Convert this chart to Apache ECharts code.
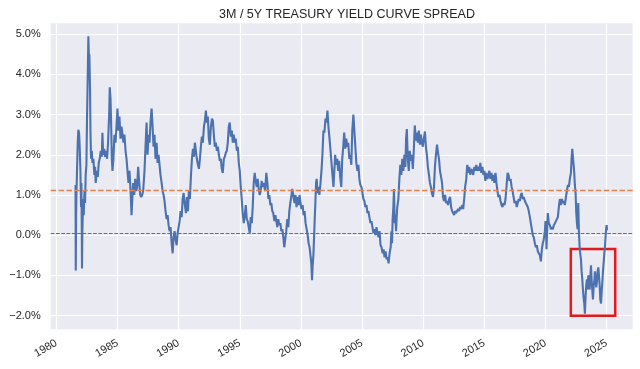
<!DOCTYPE html>
<html><head><meta charset="utf-8">
<script src="https://cdn.jsdelivr.net/npm/echarts@6/dist/echarts.min.js"></script>
<style>html,body{margin:0;padding:0;background:#fff}#c{width:640px;height:369px}</style>
</head><body><div id="c"></div>
<script>
// Decimal years (x) and 3M/5Y spread in % (y)
const years = [
 1981.57,1981.59,1981.62,1981.64,1981.69,1981.75,1981.80,1981.86,1981.91,1981.97,1982.02,1982.05,1982.08,1982.10,1982.13,1982.19,1982.24,1982.30,1982.35,1982.40,1982.46,1982.51,1982.56,1982.62,1982.68,1982.70,1982.76,1982.79,1982.84,1982.90,1982.95,
 1983.03,1983.11,1983.17,1983.22,1983.31,1983.39,1983.47,1983.55,1983.63,1983.72,1983.77,1983.83,1983.91,1983.99,1984.07,1984.15,1984.23,1984.32,1984.37,1984.43,1984.48,1984.54,1984.59,1984.67,1984.75,1984.84,1984.92,1985.00,
 1985.08,1985.16,1985.25,1985.33,1985.41,1985.49,1985.57,1985.66,1985.74,1985.82,1985.90,1985.98,1986.07,1986.15,1986.20,1986.28,1986.37,1986.45,1986.53,1986.61,1986.69,1986.78,1986.86,1986.94,1987.02,1987.10,1987.21,1987.32,1987.38,1987.46,1987.54,1987.62,1987.70,1987.79,1987.87,1987.95,
 1988.03,1988.11,1988.20,1988.28,1988.36,1988.44,1988.52,1988.61,1988.69,1988.77,1988.85,1988.93,1989.02,1989.10,1989.18,1989.26,1989.34,1989.43,1989.51,1989.59,1989.67,1989.75,1989.84,1989.92,1990.00,1990.08,1990.16,1990.25,1990.33,1990.41,1990.49,
 1990.60,1990.68,1990.76,1990.84,1990.92,1991.01,1991.09,1991.17,1991.25,1991.33,1991.41,1991.49,1991.58,1991.66,1991.74,1991.82,1991.90,1991.98,1992.07,1992.15,1992.23,1992.31,1992.39,1992.47,1992.55,1992.64,1992.72,1992.80,1992.88,1992.96,
 1993.04,1993.13,1993.21,1993.29,1993.37,1993.45,1993.53,1993.61,1993.70,1993.78,1993.86,1993.94,1994.02,1994.10,1994.18,1994.27,1994.35,1994.43,1994.51,1994.59,1994.67,1994.76,1994.84,1994.92,1995.00,
 1995.08,1995.16,1995.24,1995.33,1995.41,1995.49,1995.57,1995.65,1995.73,1995.82,1995.90,1995.98,1996.06,1996.14,1996.22,1996.30,1996.39,1996.47,1996.55,1996.63,1996.71,1996.79,1996.88,1996.96,
 1997.07,1997.17,1997.26,1997.34,1997.42,1997.50,1997.58,1997.66,1997.74,1997.83,1997.91,1997.99,1998.07,1998.15,1998.23,1998.32,1998.40,1998.48,1998.56,1998.64,1998.72,1998.80,1998.89,1998.97,1999.05,1999.13,1999.21,1999.29,
 1999.40,1999.48,1999.56,1999.64,1999.73,1999.81,1999.89,1999.97,2000.05,2000.14,2000.22,2000.30,2000.38,2000.47,2000.55,2000.63,2000.71,2000.80,2000.85,2000.91,2000.96,2001.02,2001.07,2001.13,2001.18,2001.24,2001.29,2001.35,2001.43,2001.51,2001.59,2001.68,2001.76,2001.84,2001.92,2002.01,2002.09,2002.17,2002.25,2002.34,2002.42,2002.50,2002.58,2002.66,2002.75,2002.80,2002.88,2002.97,
 2003.05,2003.13,2003.21,2003.30,2003.38,2003.46,2003.54,2003.63,2003.71,2003.79,2003.87,2003.96,2004.04,2004.12,2004.20,2004.29,2004.37,2004.45,2004.53,2004.62,2004.70,2004.78,2004.86,2004.95,
 2005.03,2005.11,2005.19,2005.27,2005.36,2005.44,2005.52,2005.60,2005.69,2005.77,2005.85,2005.93,2006.02,2006.10,2006.18,2006.26,2006.35,2006.43,2006.51,2006.59,2006.68,2006.76,2006.84,2006.92,2007.01,2007.09,2007.17,2007.25,2007.34,2007.40,2007.45,2007.50,2007.56,2007.61,2007.67,2007.72,2007.78,2007.83,2007.88,2007.97,2008.05,2008.13,2008.21,2008.29,2008.38,2008.46,
 2008.54,2008.60,2008.66,2008.74,2008.82,2008.90,2008.98,2009.07,2009.15,2009.23,2009.31,2009.40,2009.48,2009.56,2009.64,2009.73,2009.81,2009.89,2009.97,2010.05,2010.14,2010.22,2010.30,2010.38,2010.47,2010.55,2010.63,2010.71,2010.80,2010.88,2010.96,
 2011.04,2011.13,2011.21,2011.29,2011.37,2011.46,2011.54,2011.62,2011.70,2011.79,2011.87,2011.95,2012.03,2012.12,2012.20,2012.28,2012.36,2012.45,2012.53,2012.61,2012.69,2012.77,2012.86,2012.94,2013.02,2013.10,2013.19,2013.27,2013.35,2013.43,2013.52,2013.60,2013.68,2013.76,2013.85,2013.93,
 2014.01,2014.09,2014.18,2014.26,2014.34,2014.42,2014.51,2014.59,2014.67,2014.75,2014.84,2014.92,2015.00,2015.08,2015.16,2015.25,2015.33,2015.41,2015.49,2015.58,2015.66,2015.74,2015.82,2015.91,2015.99,2016.07,2016.15,2016.24,2016.32,2016.40,2016.48,2016.57,2016.65,2016.73,2016.81,2016.90,2016.98,2017.06,2017.14,2017.23,2017.31,
 2017.39,2017.47,2017.57,2017.65,2017.73,2017.81,2017.90,2017.98,2018.06,2018.14,2018.22,2018.31,2018.39,2018.47,2018.55,2018.63,2018.72,2018.80,2018.88,2018.96,2019.04,2019.13,2019.21,2019.29,2019.37,2019.45,2019.54,2019.62,2019.70,2019.78,2019.86,2019.95,
 2020.00,2020.05,2020.08,2020.14,2020.19,2020.27,2020.36,2020.44,2020.52,2020.60,2020.68,2020.77,2020.85,2020.93,2021.01,2021.09,2021.17,2021.26,2021.34,2021.42,2021.50,2021.58,2021.67,2021.75,2021.83,2021.91,2021.99,2022.08,2022.13,2022.19,2022.24,2022.30,2022.35,2022.40,2022.46,2022.51,2022.57,2022.62,2022.68,2022.73,2022.79,2022.84,2022.90,2022.95,
 2023.01,2023.06,2023.11,2023.17,2023.22,2023.28,2023.33,2023.39,2023.44,2023.50,2023.55,2023.61,2023.66,2023.72,2023.77,2023.83,2023.88,2023.94,2023.99,2024.04,2024.10,2024.15,2024.21,2024.26,2024.32,2024.37,2024.43,2024.48,2024.54,2024.59,2024.64,2024.70,2024.75,2024.81,2024.86,2024.92,2024.97,2025.00,2025.03
];
const spread = [
 1.25,-0.88,0.5,0.9,1.6,2.3,2.62,2.55,2.2,1.6,0.7,1.3,0.2,-0.83,0.1,0.9,0.5,1.1,0.8,1.5,1.75,2.9,3.8,4.95,4.2,4.5,3.6,2.6,1.9,2.1,1.8,
 1.9,1.5,1.7,1.3,1.6,1.45,1.8,1.9,2.1,1.95,2.55,2.0,2.15,1.95,2.1,1.9,2.3,3.0,3.68,3.4,2.8,1.9,1.6,1.9,2.5,2.3,2.7,3.15,
 2.6,2.95,2.4,2.7,2.5,2.3,2.5,2.1,1.9,1.6,1.3,1.6,1.1,0.5,0.8,1.3,1.0,1.4,1.1,1.2,1.7,1.3,1.0,0.95,1.0,1.1,1.6,2.4,2.8,2.0,2.5,2.3,2.8,3.15,2.7,2.2,
 2.5,1.9,2.3,1.8,2.0,1.75,1.5,1.3,1.1,1.0,0.85,0.6,0.4,0.5,0.25,0.1,0.2,-0.2,-0.45,-0.05,0.1,-0.1,-0.25,0.05,0.2,0.35,0.6,0.45,0.9,1.05,0.8,
 0.55,0.95,0.6,1.1,0.9,1.5,1.9,2.15,1.95,2.3,2.1,1.9,1.75,1.65,1.9,2.2,2.45,2.3,2.7,2.85,3.1,2.8,2.95,2.4,2.25,2.7,2.9,2.85,2.5,2.2,
 2.3,2.1,2.2,2.0,1.85,1.9,1.65,1.55,1.9,1.95,2.05,2.1,2.3,2.7,2.8,2.45,2.6,2.3,2.5,2.3,2.4,2.1,2.2,1.8,1.6,
 1.2,0.9,0.55,0.3,0.5,0.75,0.4,0.35,0.2,0.05,0.45,0.3,0.7,1.3,1.55,1.35,1.2,1.4,1.15,1.0,1.1,1.35,1.2,1.3,
 1.1,1.55,1.3,0.9,1.0,0.75,0.8,0.6,0.55,0.35,0.5,0.35,0.2,0.4,0.25,0.3,0.1,0.15,-0.05,-0.3,-0.1,0.1,0.4,0.2,0.6,0.8,0.95,1.15,
 1.15,0.8,1.0,0.7,0.95,0.75,1.0,0.8,0.65,0.75,0.5,0.6,0.3,0.15,0.0,-0.2,-0.3,-0.55,-0.7,-1.12,-0.75,-0.5,-0.1,0.4,0.8,1.3,1.4,1.05,1.2,1.0,1.25,1.6,2.0,2.6,2.55,2.9,2.8,3.1,2.7,2.4,2.1,1.8,1.5,1.2,1.7,2.0,1.75,1.9,
 1.6,1.85,1.45,1.2,1.9,2.2,2.55,2.15,2.4,2.2,2.3,1.9,2.0,1.75,2.6,3.0,2.6,2.2,1.8,1.6,1.75,1.4,1.25,1.2,
 1.05,0.9,0.85,0.7,0.75,0.55,0.6,0.45,0.3,0.35,0.2,0.05,0.15,0.0,0.2,0.05,-0.05,0.1,-0.25,-0.3,-0.45,-0.35,-0.55,-0.4,-0.6,-0.55,-0.7,-0.45,-0.3,0.1,-0.2,0.4,0.7,1.15,0.3,0.5,0.1,0.45,0.7,0.9,1.4,1.75,1.5,1.9,1.6,2.0,
 1.7,2.4,2.64,1.9,1.6,2.1,1.85,2.0,1.65,2.1,2.73,2.35,2.55,2.3,2.6,2.25,2.5,2.3,2.2,2.4,2.58,2.2,2.0,1.7,1.5,1.3,1.2,1.05,0.95,1.2,1.7,
 2.0,2.25,2.05,1.9,1.6,1.45,1.3,0.95,0.85,1.0,0.8,0.85,0.75,0.9,0.95,0.7,0.6,0.55,0.5,0.6,0.55,0.6,0.65,0.6,0.7,0.65,0.75,0.65,0.9,1.2,1.4,1.75,1.55,1.7,1.5,1.65,
 1.6,1.5,1.7,1.6,1.75,1.6,1.7,1.6,1.8,1.55,1.7,1.5,1.6,1.35,1.55,1.4,1.5,1.6,1.4,1.55,1.35,1.5,1.3,1.55,1.3,1.1,0.95,1.0,0.85,0.75,0.7,0.8,0.75,0.9,1.2,1.55,1.5,1.35,1.4,1.2,1.1,
 0.95,0.8,0.85,0.7,0.8,0.9,0.85,1.0,1.05,0.9,0.95,0.85,0.8,0.75,0.7,0.6,0.45,0.3,0.15,0.0,-0.05,-0.2,-0.3,-0.25,-0.4,-0.45,-0.5,-0.65,-0.35,-0.2,-0.1,0.1,
 0.35,0.05,-0.35,0.2,0.55,0.3,0.25,0.15,0.2,0.15,0.25,0.3,0.35,0.4,0.45,0.7,0.9,0.75,0.9,0.8,0.85,0.75,0.95,1.1,1.25,1.2,1.4,1.55,1.9,2.15,1.95,1.75,1.55,1.25,1.05,0.6,0.3,0.15,0.8,0.1,-0.3,-0.45,-0.6,-0.9,
 -1.1,-1.35,-1.55,-1.7,-1.95,-1.5,-1.25,-1.1,-1.35,-1.0,-1.25,-1.35,-1.05,-0.75,-1.1,-1.4,-1.6,-1.25,-1.15,-0.9,-1.1,-1.3,-1.15,-0.9,-0.8,-1.0,-1.25,-1.6,-1.7,-1.4,-1.2,-0.9,-0.7,-0.45,-0.3,0.0,0.2,0.25,0.12
];
const xTicks = [1980, 1985, 1990, 1995, 2000, 2005, 2010, 2015, 2020, 2025];
const yTicks = [-2, -1, 0, 1, 2, 3, 4, 5];
const meanLevel = 1.13;   // orange dashed line
const zeroLevel = 0.04;   // blue dashed line
const boxYears = [2022.07, 2025.7];
const boxSpread = [-0.34, -2.0];

const FONT = '"Liberation Sans", Arial, sans-serif';
const TXT = '#262626';
const chart = echarts.init(document.getElementById('c'), null, {renderer: 'canvas'});
chart.setOption({
  animation: false,
  backgroundColor: '#ffffff',
  title: {
    text: '3M / 5Y TREASURY YIELD CURVE SPREAD',
    left: 342, top: 3, textAlign: 'center',
    textStyle: {fontFamily: FONT, fontSize: 12.5, fontWeight: 'normal', color: TXT}
  },
  grid: {left: 50.7, right: 7.3, top: 23.3, bottom: 39.7, show: true,
         backgroundColor: '#EAEAF2', borderWidth: 0, containLabel: false},
  xAxis: {
    type: 'value', min: 1979.54, max: 2027.13,
    axisLine: {show: false},
    axisTick: {show: false, customValues: xTicks},
    axisLabel: {customValues: xTicks, rotate: 30, margin: 13, fontFamily: FONT, fontSize: 11, color: TXT,
                formatter: v => String(Math.round(v))},
    splitLine: {show: true, lineStyle: {color: '#ffffff', width: 1.2}}
  },
  yAxis: {
    type: 'value', min: -2.34, max: 5.27,
    axisLine: {show: false},
    axisTick: {show: false, customValues: yTicks},
    axisLabel: {customValues: yTicks, margin: 10, fontFamily: FONT, fontSize: 11, color: TXT,
                formatter: v => (v < 0 ? '\u2212' : '') + Math.abs(v).toFixed(1) + '%'},
    splitLine: {show: true, lineStyle: {color: '#ffffff', width: 1.2}}
  },
  series: [{
    type: 'line',
    data: years.map((y, i) => [y, spread[i]]),
    showSymbol: false,
    symbol: 'none',
    lineStyle: {color: '#4C72B0', width: 2.1},
    silent: true,
    markLine: {
      silent: true, symbol: ['none', 'none'], label: {show: false},
      data: [
        {yAxis: meanLevel, lineStyle: {color: '#DD8452', type: [5.5, 2.4], width: 1.4}},
        {yAxis: zeroLevel, lineStyle: {color: '#4C72B0', type: [3.7, 1.6], width: 1.2}}
      ]
    },
    markArea: {
      silent: true,
      itemStyle: {color: 'rgba(0,0,0,0)', borderColor: '#E31A1C', borderWidth: 2.5},
      data: [[{xAxis: boxYears[0], yAxis: boxSpread[0]}, {xAxis: boxYears[1], yAxis: boxSpread[1]}]]
    }
  }]
});
</script>
</body></html>
